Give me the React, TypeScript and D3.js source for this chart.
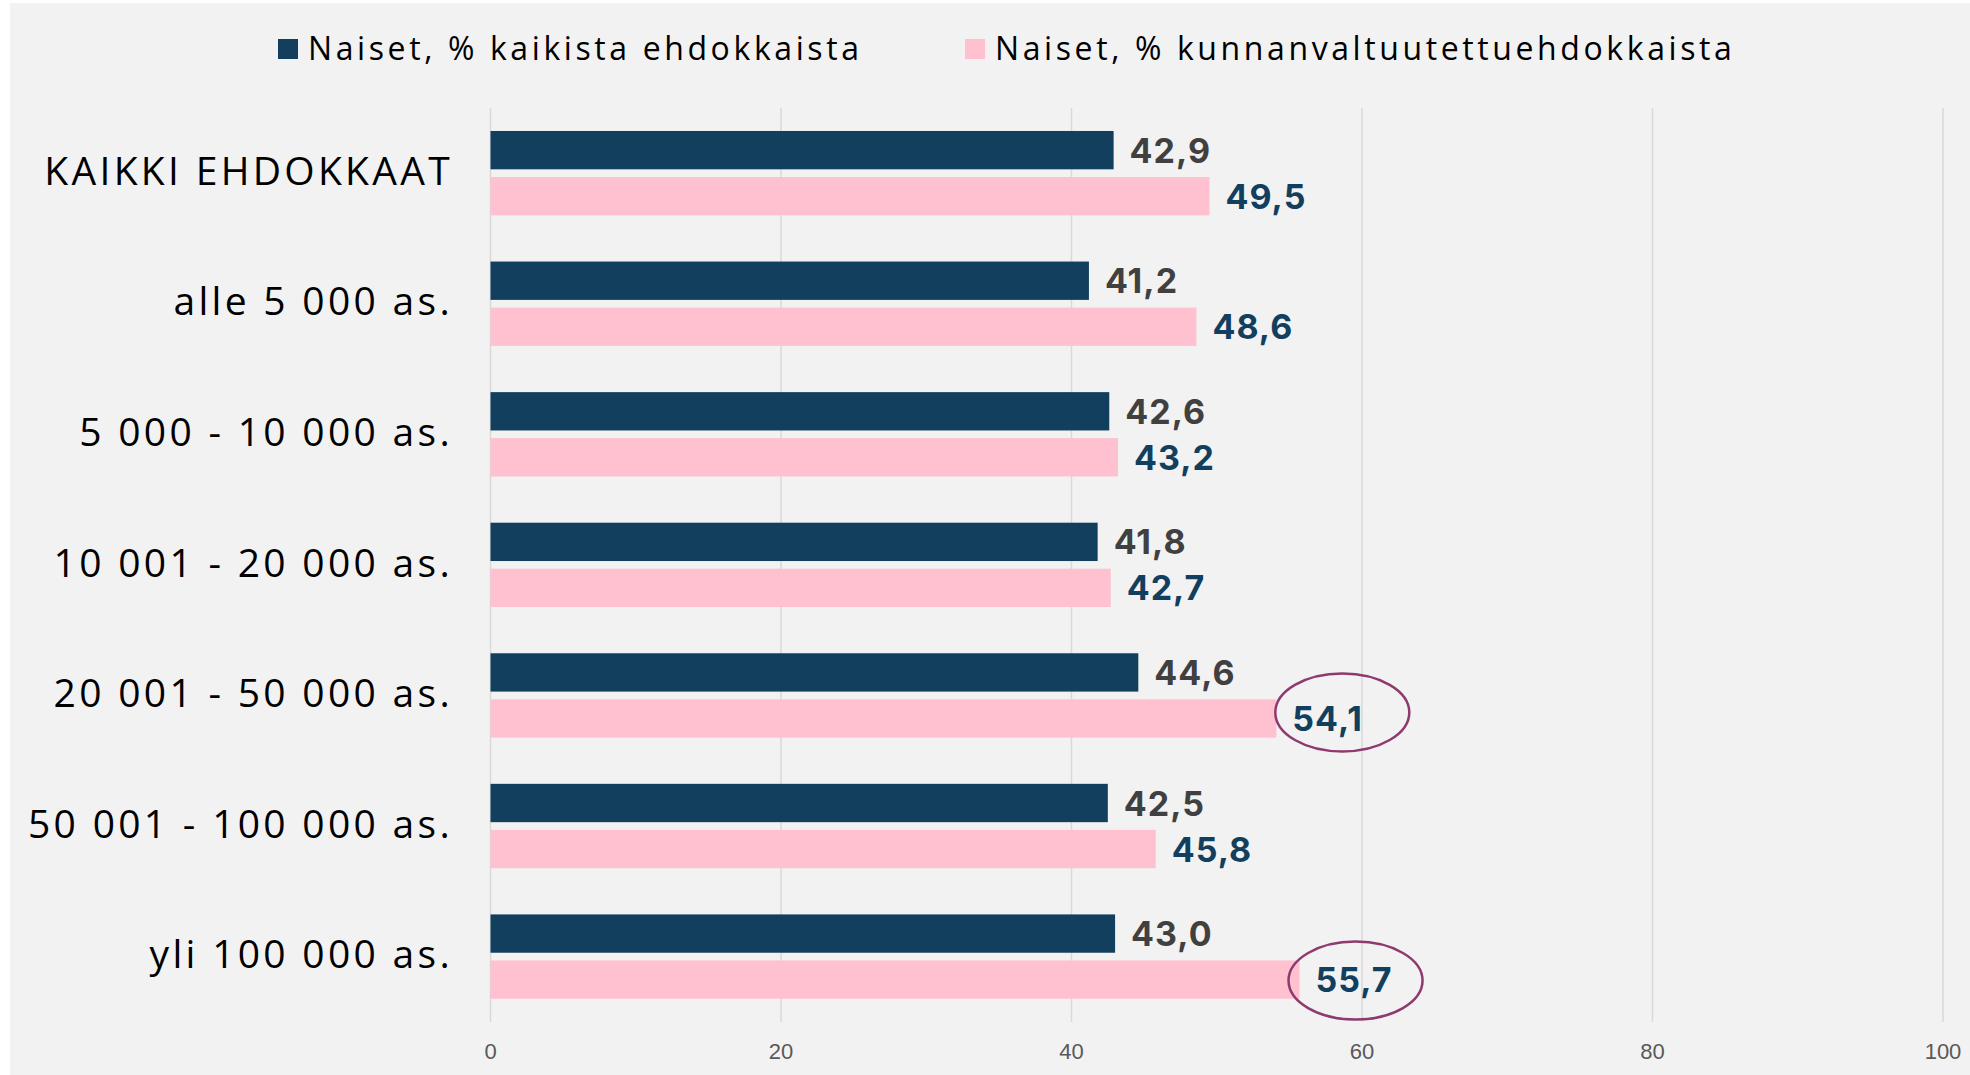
import React from "react";
import * as d3 from "d3";

const categories = [
  "KAIKKI EHDOKKAAT",
  "alle 5 000 as.",
  "5 000 - 10 000 as.",
  "10 001 - 20 000 as.",
  "20 001 - 50 000 as.",
  "50 001 - 100 000 as.",
  "yli 100 000 as.",
];
const seriesNames = ["Naiset, % kaikista ehdokkaista", "Naiset, % kunnanvaltuutettuehdokkaista"];
const allCandidates = [42.9, 41.2, 42.6, 41.8, 44.6, 42.5, 43.0];
const councilCandidates = [49.5, 48.6, 43.2, 42.7, 54.1, 45.8, 55.7];
const xTicks = [0, 20, 40, 60, 80, 100];
// circled labels in councilCandidates: category index with small placement nudges
const highlighted = [
  { index: 4, dx: 66, dy: -6 },
  { index: 6, dx: 56, dy: 1 },
];

const W = 1970;
const H = 1075;
const COLORS = ["#133f5f", "#ffc0cf"];
const LABEL_COLORS = ["#404040", "#133f5f"];

const fmt = (v: number) => v.toFixed(1).replace(".", ",");

export default function App() {
  const x = d3.scaleLinear().domain([0, 100]).range([490.5, 1943]);
  const y = d3.scaleBand<string>().domain(categories).range([108, 1022]).paddingInner(0);
  const bw = y.bandwidth();
  const sub = d3
    .scaleBand<string>()
    .domain(["0", "1"])
    .range([bw * 0.176, bw * 0.822])
    .paddingInner(0.167);
  const series = [allCandidates, councilCandidates];

  return (
    <div style={{ position: "absolute", left: 0, top: 0 }}>
      <svg width={W} height={H} style={{ display: "block" }}>
        <rect x={0} y={0} width={W} height={H} fill="#ffffff" />
        <rect x={10} y={3} width={W - 10} height={H - 3} fill="#f2f2f2" />
        {/* gridlines */}
        {xTicks.map((t) => (
          <line key={t} x1={x(t)} x2={x(t)} y1={108} y2={1022} stroke="#d9d9d9" strokeWidth={1.5} />
        ))}
        {/* tick labels */}
        {xTicks.map((t) => (
          <text
            key={"t" + t}
            x={x(t)}
            y={1051}
            textAnchor="middle"
            dominantBaseline="central"
            fontFamily="'Liberation Sans', Arial, sans-serif"
            fontSize={22}
            fill="#595959"
          >
            {t}
          </text>
        ))}
        {/* category labels */}
        {categories.map((c) => (
          <text
            key={c}
            x={453}
            y={(y(c) as number) + bw * 0.5 - 4}
            textAnchor="end"
            dominantBaseline="central"
            fontFamily="'Open Sans', sans-serif"
            fontSize={39}
            letterSpacing={3.3}
            fill="#000000"
          >
            {c}
          </text>
        ))}
        {/* bars */}
        {series.map((vals, si) =>
          vals.map((v, i) => {
            const y0 = (y(categories[i]) as number) + (sub(String(si)) as number);
            const h = sub.bandwidth();
            return (
              <g key={si + "-" + i}>
                <rect x={x(0)} y={y0} width={x(v) - x(0)} height={h} fill={COLORS[si]} />
                <text
                  x={x(v) + 16}
                  y={y0 + h / 2}
                  dominantBaseline="central"
                  fontFamily="Inter, 'Open Sans', sans-serif"
                  fontWeight={700}
                  fontSize={34}
                  letterSpacing={1}
                  fill={LABEL_COLORS[si]}
                >
                  {fmt(v)}
                </text>
              </g>
            );
          })
        )}
        {/* highlight ellipses */}
        {highlighted.map(({ index, dx, dy }) => {
          const v = councilCandidates[index];
          const yc = (y(categories[index]) as number) + (sub("1") as number) + sub.bandwidth() / 2;
          return (
            <ellipse
              key={"e" + index}
              cx={x(v) + dx}
              cy={yc + dy}
              rx={67}
              ry={39}
              fill="none"
              stroke="#8e3a6e"
              strokeWidth={2.5}
            />
          );
        })}
        {/* legend */}
        {seriesNames.map((n, si) => {
          const lx = [278, 965][si];
          return (
            <g key={n}>
              <rect x={lx} y={39} width={20} height={20} fill={COLORS[si]} />
              <text
                x={lx + 30}
                y={47}
                dominantBaseline="central"
                fontFamily="'Open Sans', sans-serif"
                fontSize={32}
                letterSpacing={3.6}
                fill="#000000"
              >
                {n}
              </text>
            </g>
          );
        })}
      </svg>
    </div>
  );
}
